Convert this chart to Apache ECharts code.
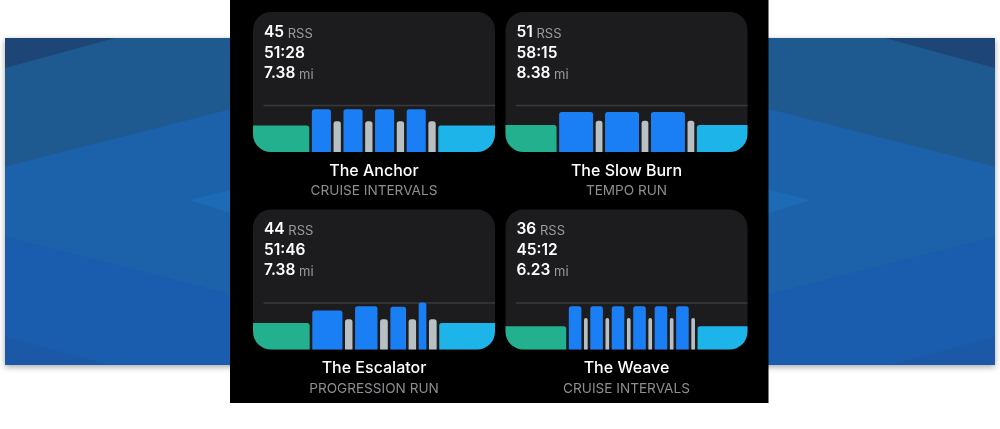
<!DOCTYPE html>
<html><head><meta charset="utf-8">
<script src="https://cdn.jsdelivr.net/npm/echarts@6/dist/echarts.min.js"></script>
<style>html,body{margin:0;padding:0;background:#fff}#c{width:1000px;height:429px}</style>
</head><body><div id="c"></div>
<script>
// ---- data ----
const titles = ['The Anchor', 'The Slow Burn', 'The Escalator', 'The Weave'];
const subtitles = ['CRUISE INTERVALS', 'TEMPO RUN', 'PROGRESSION RUN', 'CRUISE INTERVALS'];
const rssValues = [45, 51, 44, 36];
const durations = ['51:28', '58:15', '51:46', '45:12'];
const distances = ['7.38', '8.38', '7.38', '6.23'];
const threshold = 100;

const anchorMinutes   = [12.2, 4.6, 2.1, 4.6, 2.1, 4.6, 2.1, 4.6, 2.1, 12.3];
const anchorIntensity = [57, 92, 66, 92, 66, 92, 66, 92, 66, 57];
const anchorKinds     = ['warm','work','rest','work','rest','work','rest','work','rest','cool'];

const slowBurnMinutes   = [12.6, 8.8, 2.25, 8.8, 2.25, 8.8, 2.25, 12.5];
const slowBurnIntensity = [58, 86, 67, 86, 67, 86, 67, 58];
const slowBurnKinds     = ['warm','work','rest','work','rest','work','rest','cool'];

const escalatorMinutes   = [12.4, 7.0, 2.15, 5.35, 2.2, 3.9, 2.15, 2.2, 2.2, 12.2];
const escalatorIntensity = [57, 84, 65, 93, 65, 92, 65, 101, 65, 57];
const escalatorKinds     = ['warm','work','rest','work','rest','work','rest','work','rest','cool'];

const weaveMinutes   = [11.5, 2.82, 1.16, 2.82, 1.16, 2.82, 1.16, 2.82, 1.16, 2.82, 1.16, 2.82, 1.16, 9.5];
const weaveIntensity = [50, 93, 68, 93, 68, 93, 68, 93, 68, 93, 68, 93, 68, 50];
const weaveKinds     = ['warm','work','rest','work','rest','work','rest','work','rest','work','rest','work','rest','cool'];

const workouts = [
  { minutes: anchorMinutes, intensity: anchorIntensity, kinds: anchorKinds },
  { minutes: slowBurnMinutes, intensity: slowBurnIntensity, kinds: slowBurnKinds },
  { minutes: escalatorMinutes, intensity: escalatorIntensity, kinds: escalatorKinds },
  { minutes: weaveMinutes, intensity: weaveIntensity, kinds: weaveKinds }
];

// ---- style / layout ----
const kindColors = { warm: '#22b08f', work: '#1a7ff5', rest: '#b8c0c4', cool: '#1cb4e9' };
const cardX = [253, 505.5, 253, 505.5];
const cardY = [12, 12, 209.5, 209.5];
const cardW = 242, cardH = 140, cardR = 18;
const yMax = 120, unitPx = 0.465;
const gridH = yMax * unitPx;
const FONT = 'Inter, "Noto Sans", sans-serif';

const chart = echarts.init(document.getElementById('c'), null, { renderer: 'canvas' });

// background graphics
const bg = [];
bg.push({ type: 'rect', shape: { x: 5, y: 38, width: 990, height: 327 }, style: { fill: '#1b5da8', shadowBlur: 6, shadowColor: 'rgba(0,0,0,0.35)', shadowOffsetY: 2 }, z: 0 });
function poly(points, fill) { bg.push({ type: 'polygon', shape: { points }, style: { fill }, z: 1, silent: true }); }
poly([[5,38],[995,38],[995,166.7],[500,40.5],[5,166.7]], '#1e5a8f');
poly([[5,166.7],[500,40.5],[995,166.7],[995,236.7],[500,363],[5,236.7]], '#1c62ab');
poly([[190,200],[500,125],[810,200],[500,302]], '#1d6bb6');
poly([[5,236.7],[500,363],[995,236.7],[995,365],[5,365]], '#1a5cad');
poly([[5,38],[115,38],[5,68]], '#1d4576');
poly([[995,38],[885,38],[995,68]], '#1d4576');
poly([[5,336.7],[110,365],[5,365]], '#1b59a6');
poly([[995,336.7],[890,365],[995,365]], '#1b59a6');
bg.push({ type: 'rect', shape: { x: 230, y: 0, width: 538.5, height: 403 }, style: { fill: '#000' }, z: 2 });

const grids = [], xAxes = [], yAxes = [], series = [];
workouts.forEach((w, i) => {
  bg.push({ type: 'rect', shape: { x: cardX[i], y: cardY[i], width: cardW, height: cardH, r: cardR }, style: { fill: '#1c1c1e' }, z: 3 });
  const tx = cardX[i] + 11, ty = cardY[i];
  const big = { fontFamily: FONT, fontSize: 15.5, fontWeight: 600, fill: '#ffffff', verticalAlign: 'bottom' };
  const small = { fontFamily: FONT, fontSize: 13, fontWeight: 400, fill: '#9a9a9f', verticalAlign: 'bottom' };
  bg.push({ type: 'text', z: 5, style: { x: tx, y: ty + 20.3, text: '{a|' + rssValues[i] + '}{b| RSS}', verticalAlign: 'middle', rich: { a: big, b: small } } });
  bg.push({ type: 'text', z: 5, style: { x: tx, y: ty + 41, text: durations[i], verticalAlign: 'middle', fontFamily: FONT, fontSize: 15.5, fontWeight: 600, fill: '#ffffff' } });
  bg.push({ type: 'text', z: 5, style: { x: tx, y: ty + 61.3, text: '{a|' + distances[i] + '}{b| mi}', verticalAlign: 'middle', rich: { a: big, b: small } } });
  bg.push({ type: 'text', z: 5, style: { x: cardX[i] + cardW / 2, y: ty + 159, text: titles[i], align: 'center', verticalAlign: 'middle', fontFamily: FONT, fontSize: 16, fontWeight: 500, fill: '#ffffff' } });
  bg.push({ type: 'text', z: 5, style: { x: cardX[i] + cardW / 2, y: ty + 179, text: subtitles[i], align: 'center', verticalAlign: 'middle', fontFamily: FONT, fontSize: 13.6, fontWeight: 400, fill: '#8d8d92' } });

  const segs = [];
  let t = 0;
  w.minutes.forEach((m, k) => { segs.push([t, t + m, w.intensity[k], k]); t += m; });
  grids.push({ left: cardX[i], top: cardY[i] + cardH - gridH, width: cardW, height: gridH });
  xAxes.push({ type: 'value', gridIndex: i, min: 0, max: t, show: false });
  yAxes.push({ type: 'value', gridIndex: i, min: 0, max: yMax, show: false });
  series.push({
    type: 'custom', xAxisIndex: i, yAxisIndex: i, z: 4, silent: true,
    data: segs,
    renderItem: function (params, api) {
      const s = api.value(0), e = api.value(1), v = api.value(2), k = api.value(3);
      const cs = params.coordSys;
      const p0 = api.coord([s, v]);
      const p1 = api.coord([e, 0]);
      const isFirst = p0[0] - cs.x < 0.5;
      const isLast = cs.x + cs.width - p1[0] < 0.5;
      const half = 1.3;
      const x0 = isFirst ? cs.x : p0[0] + half;
      const x1 = isLast ? cs.x + cs.width : p1[0] - half;
      let r = [2.5, 2.5, 0, 0];
      if (isFirst) r = [0, 2.5, 0, cardR];
      if (isLast) r = [2.5, 0, cardR, 0];
      return {
        type: 'rect',
        shape: { x: x0, y: p0[1], width: x1 - x0, height: p1[1] - p0[1], r },
        style: { fill: kindColors[w.kinds[k]] }
      };
    }
  });
});

chart.setOption({
  animation: false,
  backgroundColor: '#ffffff',
  grid: grids, xAxis: xAxes, yAxis: yAxes, series,
  graphic: { elements: bg }
});

// threshold lines through each grid's scale
const lines = workouts.map((w, i) => {
  const p = chart.convertToPixel({ gridIndex: i }, [0, threshold]);
  return { type: 'line', z: 4, silent: true, shape: { x1: cardX[i] + 10.5, y1: p[1], x2: cardX[i] + cardW, y2: p[1] }, style: { stroke: '#3a3a3c', lineWidth: 1.5 } };
});
chart.setOption({ graphic: { elements: bg.concat(lines) } });
</script></body></html>
